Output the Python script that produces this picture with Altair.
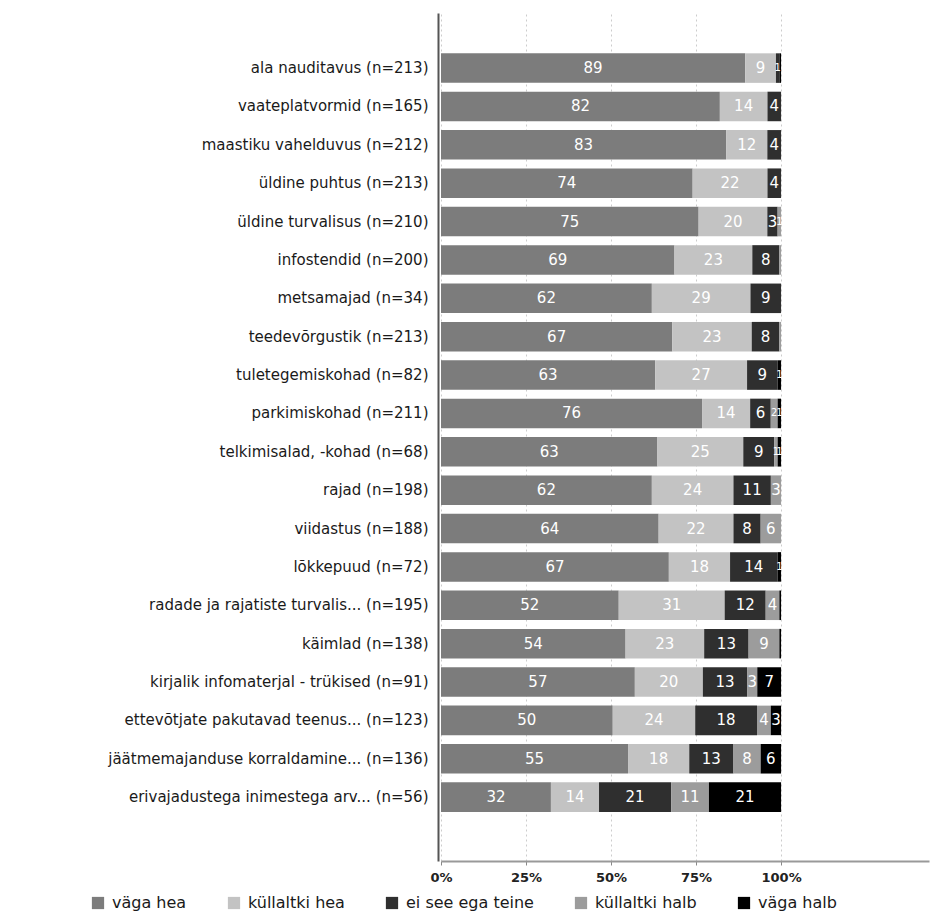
import altair as alt
import pandas as pd

categories = [
    "ala nauditavus (n=213)",
    "vaateplatvormid (n=165)",
    "maastiku vahelduvus (n=212)",
    "üldine puhtus (n=213)",
    "üldine turvalisus (n=210)",
    "infostendid (n=200)",
    "metsamajad (n=34)",
    "teedevõrgustik (n=213)",
    "tuletegemiskohad (n=82)",
    "parkimiskohad (n=211)",
    "telkimisalad, -kohad (n=68)",
    "rajad (n=198)",
    "viidastus (n=188)",
    "lõkkepuud (n=72)",
    "radade ja rajatiste turvalis... (n=195)",
    "käimlad (n=138)",
    "kirjalik infomaterjal - trükised (n=91)",
    "ettevõtjate pakutavad teenus... (n=123)",
    "jäätmemajanduse korraldamine... (n=136)",
    "erivajadustega inimestega arv... (n=56)",
]

series = ["väga hea", "küllaltki hea", "ei see ega teine", "küllaltki halb", "väga halb"]
colors = ["#7c7c7c", "#c3c3c3", "#2f2f2f", "#9c9c9c", "#000000"]

vaga_hea = [89, 82, 83, 74, 75, 69, 62, 67, 63, 76, 63, 62, 64, 67, 52, 54, 57, 50, 55, 32]
kullaltki_hea = [9, 14, 12, 22, 20, 23, 29, 23, 27, 14, 25, 24, 22, 18, 31, 23, 20, 24, 18, 14]
ei_see_ega_teine = [1, 4, 4, 4, 3, 8, 9, 8, 9, 6, 9, 11, 8, 14, 12, 13, 13, 18, 13, 21]
kullaltki_halb = [0, 0, 0, 0, 1, 0.5, 0, 0.5, 0, 2, 1, 3, 6, 0, 4, 9, 3, 4, 8, 11]
vaga_halb = [0.5, 0, 0, 0, 0, 0, 0, 0, 1, 1, 1, 0, 0, 1, 0.5, 0.5, 7, 3, 6, 21]

all_series = [vaga_hea, kullaltki_hea, ei_see_ega_teine, kullaltki_halb, vaga_halb]

rows = []
for s_idx, (name, vals) in enumerate(zip(series, all_series)):
    for cat, v in zip(categories, vals):
        rows.append({"cat": cat, "series": name, "order": s_idx, "value": v})
df = pd.DataFrame(rows)

# an empty trailing band leaves the blank space under the last bar
y_domain = categories + [""]

base = alt.Chart(df).transform_stack(
    stack="value",
    groupby=["cat"],
    sort=[alt.SortField("order", order="ascending")],
    as_=["x0", "x1"],
    offset="normalize",
)

y_scale = alt.Scale(domain=y_domain, paddingInner=0.23, paddingOuter=0.665, align=0.79)

y_enc = alt.Y(
    "cat:N",
    title=None,
    scale=y_scale,
    axis=alt.Axis(
        ticks=False,
        domainColor="#555555",
        domainWidth=2,
        labelFont="DejaVu Sans",
        labelFontSize=15,
        labelColor="#1a1a1a",
        labelPadding=10,
        offset=3,
        minExtent=425,
        labelLimit=440,
    ),
)

bars = base.mark_bar().encode(
    x=alt.X(
        "x0:Q",
        title=None,
        scale=alt.Scale(domain=[0, 1.435], nice=False),
        axis=alt.Axis(
            values=[0, 0.25, 0.5, 0.75, 1.0],
            format="%",
            grid=True,
            gridColor="#cccccc",
            gridDash=[2, 3],
            domainColor="#999999",
            domainWidth=2,
            tickColor="#888888",
            tickSize=4,
            labelFlush=False,
            labelFont="DejaVu Sans",
            labelFontSize=13,
            labelFontWeight="bold",
            labelColor="#222222",
            labelPadding=6,
        ),
    ),
    x2="x1:Q",
    y=y_enc,
    color=alt.Color(
        "series:N",
        scale=alt.Scale(domain=series, range=colors),
        sort=series,
        legend=alt.Legend(
            title=None,
            orient="none",
            legendX=-351,
            legendY=882,
            direction="horizontal",
            symbolType="square",
            symbolSize=150,
            symbolStrokeWidth=0,
            labelFont="DejaVu Sans",
            labelFontSize=16,
            labelColor="#1a1a1a",
            labelOffset=6,
            columnPadding=39,
        ),
    ),
)

labels = base.transform_filter(
    "datum.value >= 1"
).transform_calculate(
    mid="(datum.x0 + datum.x1) / 2",
    txt="format(datum.value, 'd')",
    fs="datum.value >= 3 ? 15 : 10",
).mark_text(
    color="white", font="DejaVu Sans"
).encode(
    x="mid:Q",
    y=alt.Y("cat:N", scale=y_scale),
    text="txt:N",
    size=alt.Size("fs:Q", scale=None, legend=None),
)

chart = alt.layer(bars, labels).properties(
    width=488, height=848
).configure_view(stroke=None)

chart.save("out.html", embed_options={"renderer": "svg", "actions": False})
